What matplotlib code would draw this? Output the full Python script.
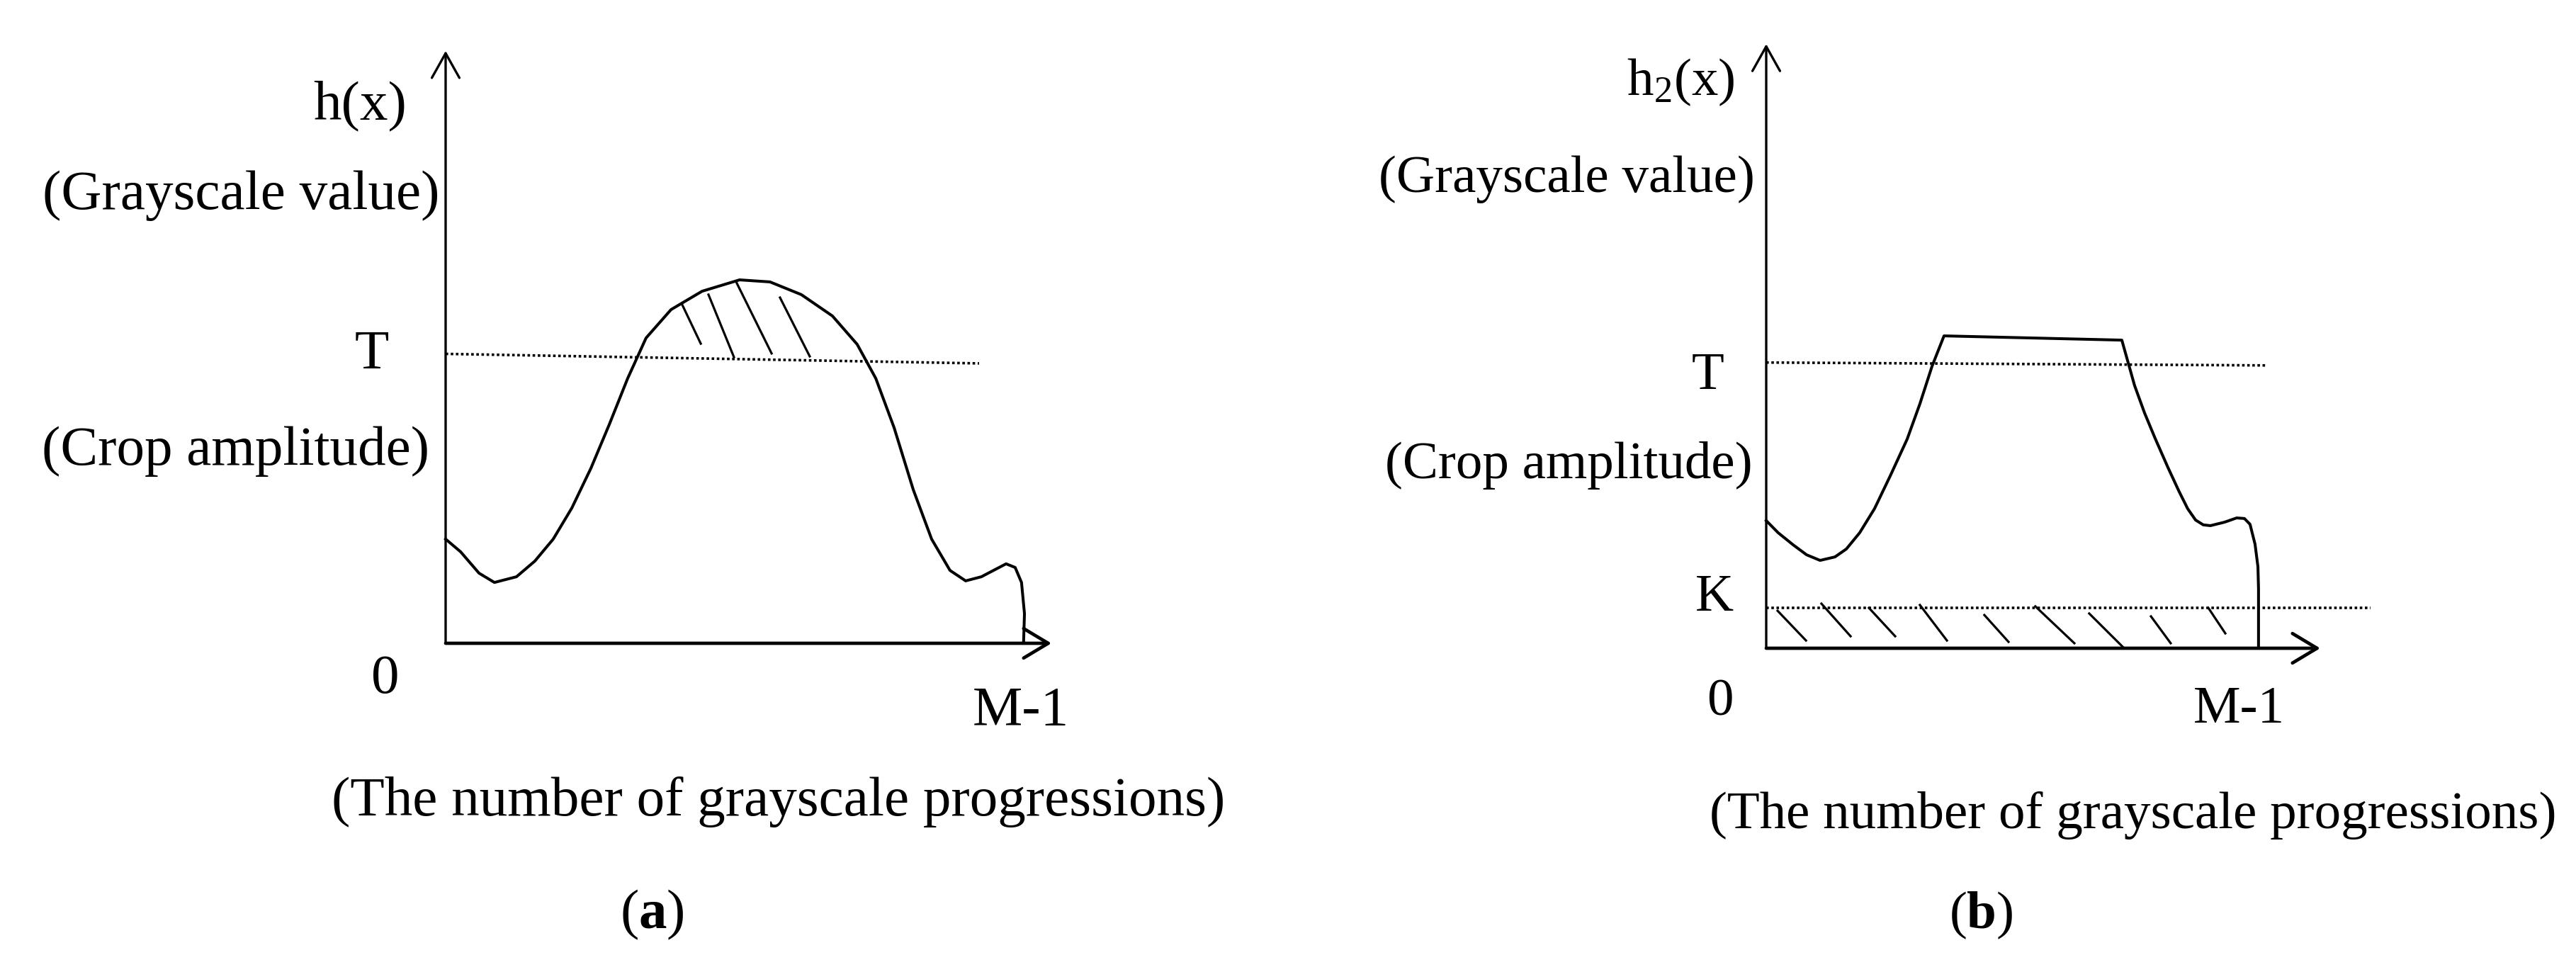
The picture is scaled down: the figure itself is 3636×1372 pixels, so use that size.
import matplotlib.pyplot as plt
import numpy as np

plt.rcParams['font.family'] = ['Liberation Serif', 'DejaVu Serif']
plt.rcParams['mathtext.fontset'] = 'custom'
plt.rcParams['mathtext.rm'] = 'Liberation Serif'
plt.rcParams['mathtext.it'] = 'Liberation Serif:italic'
plt.rcParams['mathtext.bf'] = 'Liberation Serif:bold'

W, H = 3636, 1372

# ---- panel (a): histogram h(x), grey levels 0..M-1 (M = 256) ----
a_x = [0, 6.6, 14.7, 21.5, 31.2, 39.3, 47.4, 55.6, 64.0, 72.1, 80.2, 88.3,
       99.3, 113.0, 129.5, 142.9, 156.7, 170.4, 181.3, 189.5, 197.6, 206.0,
       214.1, 222.2, 229.1, 236.0, 246.9, 250.9, 253.7, 255.0, 254.6]
a_y = [45.9, 40.3, 30.9, 26.8, 29.3, 36.2, 45.9, 59.6, 77.1, 96.4, 116.7,
       134.5, 147.0, 155.1, 160.1, 159.2, 153.6, 144.2, 131.7, 116.7, 94.9,
       67.7, 45.9, 32.1, 27.5, 29.3, 35.0, 33.4, 26.8, 13.1, 0.0]
a_T = [127.5, 123.3]          # crop amplitude (dotted line drawn slightly tilted)
a_hatch = [((104.2, 149.2), (112.4, 132.0)),
           ((115.8, 153.6), (127.0, 126.1)),
           ((128.0, 159.2), (143.6, 127.7)),
           ((147.3, 152.3), (160.4, 126.4))]

# ---- panel (b): clipped histogram h2(x) ----
b_x = [0, 6.2, 13.9, 20.9, 27.9, 35.6, 41.5, 48.4, 56.1, 64.2, 73.0, 79.6,
       85.9, 92.1, 184.2, 190.8, 196.0, 201.5, 208.1, 213.9, 218.3, 222.4,
       226.4, 230.1, 237.4, 243.7, 247.7, 250.6, 253.2, 254.7, 255.0, 255.0]
b_y = [66.1, 59.8, 53.6, 48.4, 45.5, 47.3, 51.4, 59.8, 72.3, 89.2, 108.3,
       126.6, 146.1, 161.8, 159.6, 136.1, 121.8, 108.6, 93.6, 81.1, 72.3, 66.4,
       63.9, 63.5, 65.3, 67.5, 67.2, 64.2, 53.9, 42.2, 30.8, 0.0]
b_T = [148, 146.5]
b_K = 21
b_hatch = [((5.9, 19.4), (20.6, 4.0)),
           ((28.6, 23.1), (43.7, 6.2)),
           ((53.2, 20.9), (66.8, 6.2)),
           ((79.6, 22.4), (93.6, 4.0)),
           ((113.0, 17.2), (125.5, 3.3)),
           ((139.4, 21.7), (159.6, 2.6)),
           ((167.3, 18.0), (185.0, 0.4)),
           ((199.3, 16.5), (209.5, 2.6)),
           ((229.0, 20.9), (237.8, 7.7))]

xlabel = '(The number of grayscale progressions)'
ylabel = '(Grayscale value)'
tlabel = '(Crop amplitude)'

fig = plt.figure(figsize=(W / 100, H / 100), dpi=100)


def panel_axes(ox, oy, scale):
    ax = fig.add_axes([0, 0, 1, 1])
    ax.set_xlim(-ox / scale, (W - ox) / scale)
    ax.set_ylim(-(H - oy) / scale, oy / scale)
    ax.axis('off')
    ax.patch.set_visible(False)
    return ax


def draw_axes(ax, xend, yend):
    arrow = dict(mutation_scale=20, shrinkA=0, shrinkB=0, color='black')
    ax.annotate('', xy=(0, yend), xytext=(0, 0),
                arrowprops=dict(arrow, lw=2.4, arrowstyle='->,head_length=1.25,head_width=0.7'))
    ax.annotate('', xy=(xend, 0), xytext=(0, 0),
                arrowprops=dict(arrow, lw=3.4, arrowstyle='->,head_length=1.25,head_width=0.75'))


dots = (0, (1, 1))

# (a)
fs_a = 57
ax1 = panel_axes(629, 908, 3.204)
draw_axes(ax1, 266.9, 261)
ax1.plot(a_x, a_y, color='black', lw=2.9, solid_joinstyle='round')
ax1.plot([0, 235], a_T, color='black', lw=2.6, linestyle=dots)
for (x0, y0), (x1, y1) in a_hatch:
    ax1.plot([x0, x1], [y0, y1], color='black', lw=2.3)
ax1.text(-17.2, 236.9, 'h(x)', fontsize=fs_a, ha='right', va='center')
ax1.text(-2.8, 197.3, ylabel, fontsize=fs_a, ha='right', va='center')
ax1.text(-32.5, 127, 'T', fontsize=fs_a, ha='center', va='center')
ax1.text(-7.2, 84.6, tlabel, fontsize=fs_a, ha='right', va='center')
ax1.text(-26.5, -16, '0', fontsize=fs_a, ha='center', va='center')
ax1.text(253.4, -30, 'M-1', fontsize=fs_a, ha='center', va='center')
ax1.text(146.7, -70, xlabel, fontsize=fs_a, ha='center', va='center')
ax1.text(90.8, -119.5, r'($\mathbf{a}$)', fontsize=fs_a, ha='center', va='center')

# (b)
fs_b = 54
ax2 = panel_axes(2493, 915, 2.725)
draw_axes(ax2, 287, 313)
ax2.plot(b_x, b_y, color='black', lw=2.9, solid_joinstyle='round')
ax2.plot([0, 259], b_T, color='black', lw=2.6, linestyle=dots)
ax2.plot([0, 313], [b_K, b_K], color='black', lw=2.6, linestyle=dots)
for (x0, y0), (x1, y1) in b_hatch:
    ax2.plot([x0, x1], [y0, y1], color='black', lw=2.3)
ax2.text(-16.5, 293, r'h$_2$(x)', fontsize=fs_b, ha='right', va='center')
ax2.text(-5.9, 242.9, ylabel, fontsize=fs_b, ha='right', va='center')
ax2.text(-30.1, 141, 'T', fontsize=fs_b, ha='center', va='center')
ax2.text(-7.0, 94.7, tlabel, fontsize=fs_b, ha='right', va='center')
ax2.text(-26.8, 26, 'K', fontsize=fs_b, ha='center', va='center')
ax2.text(-23.9, -28, '0', fontsize=fs_b, ha='center', va='center')
ax2.text(244.8, -32, 'M-1', fontsize=fs_b, ha='center', va='center')
ax2.text(190.1, -86.6, xlabel, fontsize=fs_b, ha='center', va='center')
ax2.text(111.2, -138.3, r'($\mathbf{b}$)', fontsize=fs_b, ha='center', va='center')

fig.savefig('out.png', dpi=100, facecolor='white')
